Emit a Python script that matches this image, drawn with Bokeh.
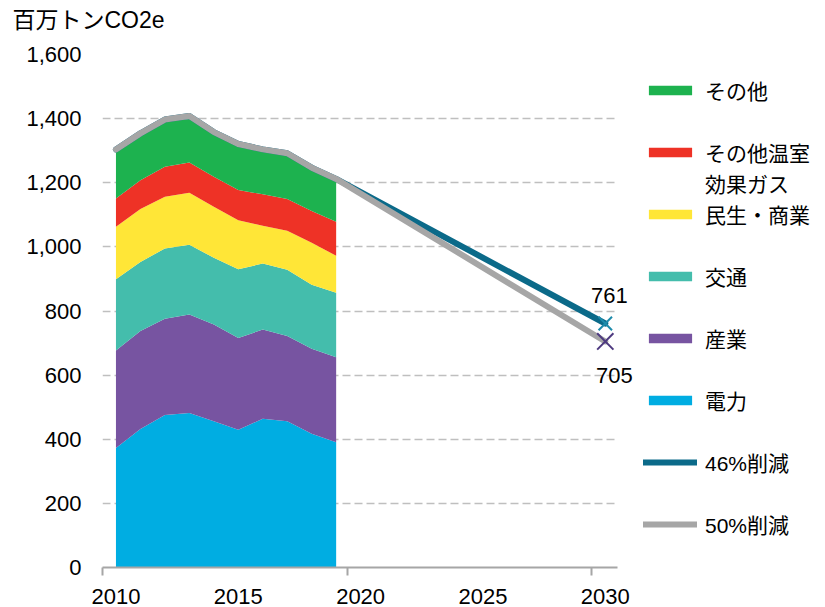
from bokeh.plotting import figure
from bokeh.models import (ColumnDataSource, Range1d, FixedTicker, NumeralTickFormatter,
                          Legend, LegendItem, LabelSet, Label, BoxAnnotation)
from bokeh.core.properties import value
from bokeh.embed import file_html
from bokeh.resources import INLINE

# ---- data (百万トンCO2e) ----
years = [2010, 2011, 2012, 2013, 2014, 2015, 2016, 2017, 2018, 2019]
power = [373, 432, 476, 482, 456, 430, 464, 456, 417, 391]          # 電力
industry = [304, 306, 300, 307, 302, 286, 278, 266, 265, 265]       # 産業
transport = [222, 215, 219, 218, 208, 214, 206, 207, 200, 201]      # 交通
commercial = [164, 165, 161, 162, 159, 153, 118, 121, 131, 115]     # 民生・商業
other_ghg = [88, 90, 94, 94, 94, 94, 98, 99, 99, 106]               # その他温室効果ガス
other = [146, 136, 141, 136, 135, 136, 138, 138, 133, 127]          # その他
total = [1304, 1354, 1397, 1408, 1358, 1321, 1304, 1292, 1247, 1212]
target_year = [2030]
target_46 = [761]
target_50 = [705]

x_tick_labels = [2010, 2015, 2020, 2025, 2030]
x_tick_marks = [2009.45, 2019.45, 2029.45]
y_ticks = [0, 200, 400, 600, 800, 1000, 1200, 1400, 1600]

series_names = ["power", "industry", "transport", "commercial", "other_ghg", "other"]
series_colors = ["#00ade2", "#7754a1", "#44bdac", "#ffe637", "#ee3226", "#1db24f"]

LATIN = "Liberation Sans"
MIXED = "Liberation Sans, Noto Sans CJK JP"

# plotted axis extent; the frame continues to the right to host the legend
axis_start, axis_end, view_end = 2009.45, 2030.5, 2039.0

src = ColumnDataSource(dict(year=years, power=power, industry=industry,
                            transport=transport, commercial=commercial,
                            other_ghg=other_ghg, other=other))

p = figure(width=825, height=607, x_range=Range1d(axis_start, view_end), y_range=Range1d(0, 1600),
           output_backend="svg", toolbar_location=None,
           min_border_left=102, min_border_right=0, min_border_top=54, min_border_bottom=40)
p.title = None
p.outline_line_color = None
p.background_fill_color = "white"

# grid
p.xgrid.visible = False
p.ygrid.grid_line_color = "#bfbfbf"
p.ygrid.grid_line_dash = "8 4"
p.ygrid.grid_line_width = 1.5
# keep the legend area (right of the axis end) free of grid lines
p.add_layout(BoxAnnotation(left=axis_end, fill_color="white", fill_alpha=1.0,
                           line_color=None, level="underlay"))

areas = p.varea_stack(series_names, x="year", color=series_colors, source=src)

line46 = p.line(years + target_year, total + target_46, line_color="#0b6a89", line_width=6,
                line_join="round", line_cap="round")
line50 = p.line(years + target_year, total + target_50, line_color="#a6a6a6", line_width=6,
                line_join="round", line_cap="round")

p.scatter(target_year, target_46, marker="x", size=19, line_color="#1d8bab", line_width=2)
p.scatter(target_year, target_50, marker="x", size=23, line_color="#4e3a80", line_width=2)

lab_src46 = ColumnDataSource(dict(x=target_year, y=target_46, t=[str(v) for v in target_46]))
lab_src50 = ColumnDataSource(dict(x=target_year, y=target_50, t=[str(v) for v in target_50]))
p.add_layout(LabelSet(x="x", y="y", text="t", source=lab_src46, x_offset=4, y_offset=28,
                      text_align="center", text_baseline="middle", text_font_size="22px",
                      text_font=value(LATIN), text_color="black"))
p.add_layout(LabelSet(x="x", y="y", text="t", source=lab_src50, x_offset=9, y_offset=-34,
                      text_align="center", text_baseline="middle", text_font_size="22px",
                      text_font=value(LATIN), text_color="black"))

# axes
xa = p.xaxis[0]
xa.bounds = (axis_start, axis_end)
xa.ticker = FixedTicker(ticks=x_tick_labels, minor_ticks=x_tick_marks)
xa.major_tick_out = 0
xa.major_tick_in = 0
xa.major_tick_line_color = None
xa.minor_tick_out = 8
xa.minor_tick_in = 0
xa.minor_tick_line_color = "#a6a6a6"
xa.minor_tick_line_width = 2
xa.axis_line_color = "#a6a6a6"
xa.axis_line_width = 2
xa.major_label_standoff = 13
xa.major_label_text_font_size = "22px"
xa.major_label_text_font = LATIN
xa.major_label_text_color = "black"

ya = p.yaxis[0]
ya.ticker = FixedTicker(ticks=y_ticks)
ya.formatter = NumeralTickFormatter(format="0,0")
ya.axis_line_color = None
ya.major_tick_line_color = None
ya.minor_tick_line_color = None
ya.major_tick_out = 0
ya.major_label_standoff = 21
ya.major_label_text_font_size = "22px"
ya.major_label_text_font = LATIN
ya.major_label_text_color = "black"

# unit title (top-left), placed in the panel above the plot frame
p.add_layout(Label(x=-90, y=35, x_units="screen", y_units="screen", text="百万トンCO2e",
                   text_font_size="23px", text_font=MIXED, text_baseline="middle",
                   text_color="black"), "above")

# legend: rows on a 31px pitch; blank rows keep the original spacing,
# 「その他温室効果ガス」 wraps onto a second row.
def item(label, r):
    return LegendItem(label=label, renderers=r)

items = [
    item("その他", [areas[5]]), item(" ", []),
    item("その他温室", [areas[4]]), item("効果ガス", []),
    item("民生・商業", [areas[3]]), item(" ", []),
    item("交通", [areas[2]]), item(" ", []),
    item("産業", [areas[1]]), item(" ", []),
    item("電力", [areas[0]]), item(" ", []),
    item("46%削減", [line46]), item(" ", []),
    item("50%削減", [line50]),
]
legend = Legend(items=items, location=(541, 28), glyph_width=54, glyph_height=12,
                label_standoff=8, spacing=0, label_height=31, padding=0, margin=0,
                border_line_color=None, background_fill_alpha=0,
                label_text_font_size="21px", label_text_font=MIXED, label_text_color="black")
p.add_layout(legend)

open("out.html", "w").write(file_html(p, INLINE))
